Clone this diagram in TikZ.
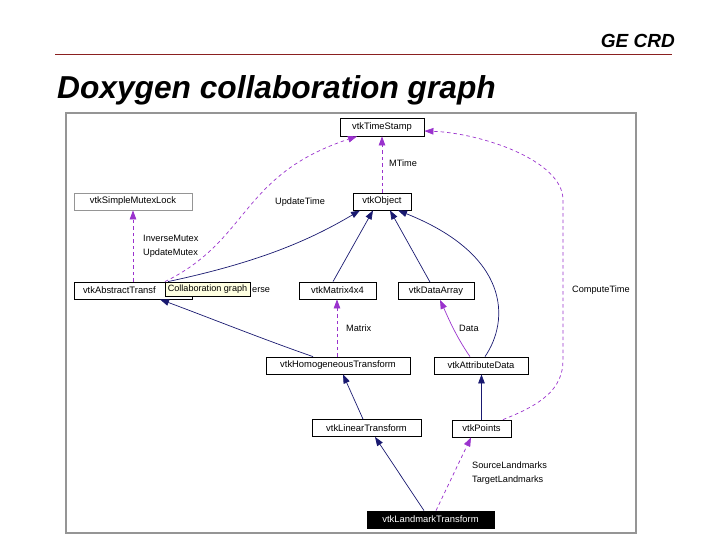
\documentclass[tikz,border=0pt]{standalone}
\usepackage{fontspec}
\setmainfont{Liberation Sans}
\usetikzlibrary{arrows.meta}
\definecolor{navy}{HTML}{191970}
\definecolor{orch}{HTML}{9A32CD}
\definecolor{framegray}{HTML}{959595}
\definecolor{rulered}{HTML}{8B2020}
\definecolor{tipyellow}{HTML}{FFFFE1}
\tikzset{
  cls/.style={draw=black, line width=0.8pt, fill=white, inner sep=0pt, font=\fontsize{9.4}{11}\selectfont},
  clsgray/.style={cls, draw=framegray},
  clsmain/.style={cls, fill=black, text=white},
  lbl/.style={anchor=west, inner sep=0pt, font=\fontsize{9.2}{11}\selectfont},
  inh/.style={draw=navy, line width=0.7pt, -{Triangle[length=9pt,width=6.5pt]}, navy},
  use/.style={draw=orch, line width=0.7pt, dash pattern=on 3.5pt off 3pt, -{Triangle[length=9pt,width=6.5pt]}, orch},
  usesolid/.style={draw=orch, line width=0.7pt, -{Triangle[length=9pt,width=6.5pt]}, orch},
}
\begin{document}
\begin{tikzpicture}[x=1pt,y=-1pt]
\useasboundingbox (0,0) rectangle (720,540);
% header
\node[anchor=base east, inner sep=0pt, font=\fontsize{19}{22}\selectfont\bfseries\itshape] (hdr) at (675,48) {GE CRD};
\draw[rulered, line width=0.9pt] (55,54) coordinate (rl) -- (672,54) coordinate (rr);
\node[anchor=base west, inner sep=0pt, font=\fontsize{31.7}{36}\selectfont\bfseries\itshape] (title) at (57,99) {Doxygen collaboration graph};
% frame
\draw[framegray, line width=2.2pt] (66,113) rectangle (636,533);

% class nodes
\node[cls, minimum width=84pt, minimum height=18pt] (ts) at (382,127) {vtkTimeStamp};
\node[cls, minimum width=58pt, minimum height=17pt] (obj) at (382,201.5) {vtkObject};
\node[clsgray, minimum width=118pt, minimum height=17pt] (mutex) at (133,201.5) {vtkSimpleMutexLock};
\node[cls, minimum width=118pt, minimum height=17pt, inner xsep=9pt, text width=100pt, align=left] (abs) at (133,290.5) {vtkAbstractTransf};
\node[cls, minimum width=77pt, minimum height=17pt] (m4) at (337.5,290.5) {vtkMatrix4x4};
\node[cls, minimum width=76pt, minimum height=17pt] (da) at (436,291) {vtkDataArray};
\node[cls, minimum width=144pt, minimum height=17pt] (hom) at (338,365.5) {vtkHomogeneousTransform};
\node[cls, minimum width=94pt, minimum height=17pt] (attr) at (481,365.5) {vtkAttributeData};
\node[cls, minimum width=109pt, minimum height=17pt] (lin) at (366.5,428) {vtkLinearTransform};
\node[cls, minimum width=59pt, minimum height=17pt] (pts) at (481.5,428.5) {vtkPoints};
\node[clsmain, minimum width=127pt, minimum height=17pt] (lm) at (430.5,519.5) {vtkLandmarkTransform};

% edges
\draw[use] (obj.north) -- (ts.south);
\draw[use] (abs.north -| 165,0) .. controls (250,240) and (240,175) .. (ts.south -| 357,0);
\draw[use] (abs.north) -- (mutex.south);
\draw[inh] (abs.north -| 168,0) .. controls (260,262) and (310,240) .. (obj.south -| 360,0);
\draw[inh] (m4.north -| 333,0) -- (obj.south -| 373,0);
\draw[inh] (da.north -| 430,0) -- (obj.south -| 390,0);
\draw[inh] (attr.north -| 485,0) .. controls (510,320) and (510,255) .. (obj.south -| 398,0);
\draw[inh] (hom.north -| 313,0) .. controls (265,340) and (210,318) .. (abs.south -| 160,0);
\draw[use] (hom.north -| 337,0) -- (m4.south -| 337,0);
\draw[usesolid] (attr.north -| 470,0) .. controls (455,335) and (447,315) .. (da.south -| 440,0);
\draw[inh] (lin.north -| 363,0) -- (hom.south -| 343,0);
\draw[inh] (pts.north) -- (attr.south -| pts.north);
\coordinate (ctA) at (563,360);
\coordinate (ctB) at (563,200);
\draw[use] (pts.north -| 503,0) .. controls (540,405) and (563,390) .. (ctA) -- (ctB) .. controls (563,160) and (480,133) .. (ts.east |- 0,131);
\draw[inh] (lm.north -| 424,0) -- (lin.south -| 375,0);
\draw[use] (lm.north -| 436,0) -- (pts.south -| 471,0);
\coordinate (selfend) at (235,291);
\draw[usesolid] (selfend) -- (abs.east |- 0,291);

% edge labels
\node[lbl] (lMTime) at (389,163) {MTime};
\node[lbl] (lUpd) at (275,202) {UpdateTime};
\node[lbl] (lInv) at (143,238) {InverseMutex};
\node[lbl] (lUpdM) at (143,253) {UpdateMutex};
\node[lbl] (lComp) at (572,290) {ComputeTime};
\node[lbl] (lMat) at (346,328) {Matrix};
\node[lbl] (lData) at (459,328) {Data};
\node[lbl] (lSrc) at (472,465) {SourceLandmarks};
\node[lbl] (lTgt) at (472,480) {TargetLandmarks};
\node[lbl] (lerse) at (252,290) {erse};

% tooltip
\node[draw=black, line width=0.6pt, fill=tipyellow, inner sep=0pt, minimum width=85pt, minimum height=14pt, font=\fontsize{9.1}{11}\selectfont] (tip) at (207.5,289) {Collaboration graph};
\end{tikzpicture}
\end{document}
